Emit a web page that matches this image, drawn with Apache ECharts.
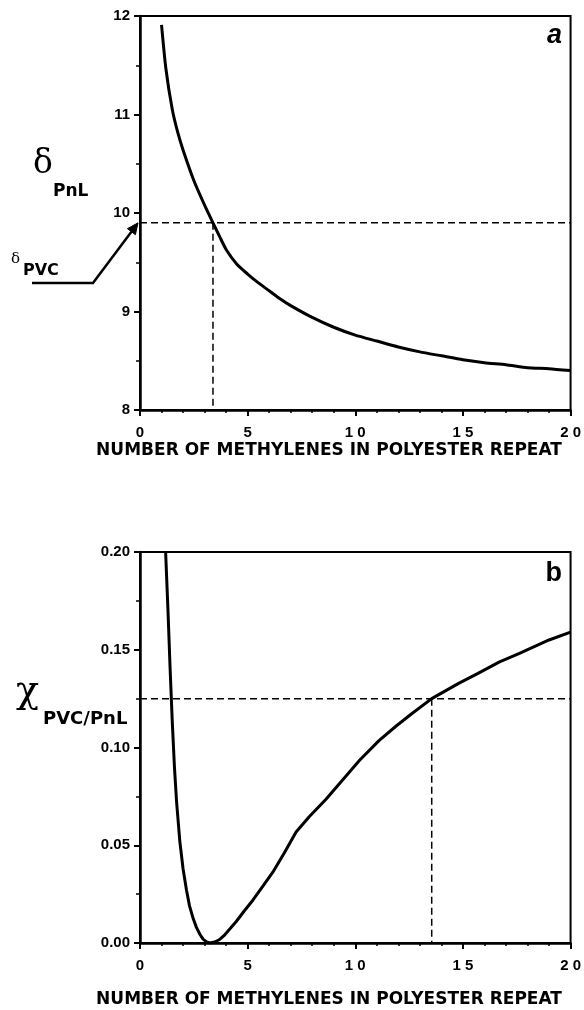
<!DOCTYPE html>
<html>
<head>
<meta charset="utf-8">
<script src="https://cdn.jsdelivr.net/npm/echarts@6/dist/echarts.min.js"></script>
<style>
  html, body { margin: 0; padding: 0; background: #fff; }
  #chart { width: 584px; height: 1010px; }
</style>
</head>
<body>
<div id="chart"></div>
<script>
// Panel a: solubility parameter of the polyester vs. number of methylenes
const nA = [1.0, 1.2, 1.5, 1.75, 2.0, 2.5, 3.0, 3.39, 3.7, 4.0, 4.5, 5.0, 5.5, 6.0, 6.5, 7.0,
            8.0, 9.0, 10, 11, 12, 13, 14, 15, 16, 17, 18, 19, 20];
const deltaPnL = [11.91, 11.47, 11.05, 10.82, 10.64, 10.33, 10.08, 9.90, 9.76, 9.63, 9.48, 9.38, 9.29, 9.21, 9.13, 9.06,
                  8.94, 8.84, 8.76, 8.70, 8.64, 8.59, 8.55, 8.51, 8.48, 8.46, 8.43, 8.42, 8.40];
const deltaPVC = 9.9;        // solubility parameter of PVC
const nDeltaMatch = 3.39;    // methylene count where the curves meet

// Panel b: interaction parameter PVC/PnL vs. number of methylenes
const nB = [1.19, 1.30, 1.40, 1.50, 1.60, 1.70, 1.85, 2.0, 2.16, 2.3, 2.47, 2.62, 2.78, 2.93, 3.09, 3.25, 3.47,
            3.7, 3.94, 4.2, 4.47, 4.85, 5.25, 5.7, 6.17, 6.7, 7.25, 7.87, 8.64, 9.26, 10.2, 11.1, 11.9, 12.65,
            13.55, 14.8, 15.7, 16.7, 17.6, 19.0, 20.0];
const chi = [0.200, 0.170, 0.140, 0.113, 0.090, 0.072, 0.052, 0.038, 0.027, 0.019, 0.0125, 0.008, 0.0045, 0.002,
             0.0006, 0.0, 0.0005, 0.0018, 0.0042, 0.0075, 0.011, 0.0165, 0.022, 0.029, 0.0362, 0.046, 0.0568,
             0.0647, 0.0735, 0.0815, 0.0935, 0.1035, 0.111, 0.1175, 0.125, 0.1328, 0.1379, 0.1438, 0.148,
             0.155, 0.159];
const chiCritical = 0.125;
const nChiMatch = 13.55;

// Axis ranges and tick steps
const xRange = [0, 20, 5];
const yRangeA = [8, 12, 1];
const yRangeB = [0, 0.20, 0.05];

const xTitle = 'NUMBER OF METHYLENES IN POLYESTER REPEAT';

const zip = (xs, ys) => xs.map((x, i) => [x, ys[i]]);

function labelStyle(extra) {
  return Object.assign({
    color: '#000', fontFamily: 'Liberation Sans', fontWeight: 'bold', fontSize: 15
  }, extra);
}

function xAxisCfg(gridIndex) {
  return {
    type: 'value', gridIndex,
    min: xRange[0], max: xRange[1], interval: xRange[2],
    axisLine: { show: true, onZero: false, lineStyle: { color: '#000', width: 2.5 } },
    axisTick: { show: true, inside: false, length: 6, lineStyle: { color: '#000', width: 2 } },
    minorTick: { show: true, splitNumber: 5, length: 3, lineStyle: { color: '#000', width: 1.5 } },
    splitLine: { show: false }, minorSplitLine: { show: false },
    axisLabel: labelStyle({ margin: 15, formatter: v => String(v).split('').join(' ') })
  };
}

function yAxisCfg(gridIndex, range, digits) {
  return {
    type: 'value', gridIndex,
    min: range[0], max: range[1], interval: range[2],
    axisLine: { show: true, onZero: false, lineStyle: { color: '#000', width: 2.5 } },
    axisTick: { show: true, inside: false, length: 6, lineStyle: { color: '#000', width: 2 } },
    minorTick: { show: true, splitNumber: 2, length: 4, lineStyle: { color: '#000', width: 1.5 } },
    splitLine: { show: false }, minorSplitLine: { show: false },
    axisLabel: labelStyle({ margin: 10, formatter: v => Number(v).toFixed(digits) })
  };
}

const curveStyle = { color: '#000', width: 3 };
const dashStyle = { color: '#000', width: 1.5, type: [7, 4] };

function lineSeries(xi, yi, data, style, smooth) {
  return {
    type: 'line', xAxisIndex: xi, yAxisIndex: yi, data,
    showSymbol: false, symbol: 'none', smooth: smooth || false,
    lineStyle: style, silent: true, z: 3
  };
}

const chart = echarts.init(document.getElementById('chart'), null, { renderer: 'canvas' });

chart.setOption({
  animation: false,
  backgroundColor: '#fff',
  grid: [
    { left: 140, top: 16, width: 432, height: 394, show: true, borderColor: '#000', borderWidth: 2, backgroundColor: 'transparent' },
    { left: 140, top: 552, width: 432, height: 391, show: true, borderColor: '#000', borderWidth: 2, backgroundColor: 'transparent' }
  ],
  xAxis: [xAxisCfg(0), xAxisCfg(1)],
  yAxis: [yAxisCfg(0, yRangeA, 0), yAxisCfg(1, yRangeB, 2)],
  series: [
    lineSeries(0, 0, zip(nA, deltaPnL), curveStyle, 0.2),
    lineSeries(0, 0, [[xRange[0], deltaPVC], [xRange[1], deltaPVC]], dashStyle),
    lineSeries(0, 0, [[nDeltaMatch, deltaPVC], [nDeltaMatch, yRangeA[0]]], dashStyle),
    lineSeries(1, 1, zip(nB, chi), curveStyle, false),
    lineSeries(1, 1, [[xRange[0], chiCritical], [xRange[1], chiCritical]], dashStyle),
    lineSeries(1, 1, [[nChiMatch, chiCritical], [nChiMatch, yRangeB[0]]], dashStyle)
  ]
});

// Annotations: axis titles, symbols, panel letters and the PVC arrow
const tip = chart.convertToPixel({ xAxisIndex: 0, yAxisIndex: 0 }, [xRange[0], deltaPVC]);
const tipX = tip[0] - 2, tipY = tip[1];
const startX = 93, startY = 283;
const dx = tipX - startX, dy = tipY - startY, len = Math.hypot(dx, dy);
const ux = dx / len, uy = dy / len, px = -uy, py = ux;
const headLen = 11, headHalf = 5;
const baseX = tipX - ux * headLen, baseY = tipY - uy * headLen;

function txt(text, x, y, font, align) {
  return {
    type: 'text', x, y, silent: true,
    style: { text, font, fill: '#000', align: align || 'left', verticalAlign: 'middle',
             textAlign: align || 'left', textVerticalAlign: 'middle' }
  };
}

const boldSans = size => `bold ${size}px "DejaVu Sans", sans-serif`;
const serif = size => `${size}px "DejaVu Serif", serif`;

chart.setOption({
  graphic: [
    txt(xTitle, 329, 451, boldSans(17), 'center'),
    txt(xTitle, 329, 1000, boldSans(17), 'center'),
    txt('δ', 33, 164, serif(33)),
    txt('PnL', 53, 192, boldSans(17)),
    txt('δ', 11, 259, serif(15)),
    txt('PVC', 23, 271, boldSans(16)),
    txt('χ', 16, 692, serif(38)),
    txt('PVC/PnL', 43, 719, boldSans(18)),
    txt('a', 562, 36, 'italic bold 27px "Liberation Sans", sans-serif', 'right'),
    txt('b', 562, 574, 'bold 27px "Liberation Sans", sans-serif', 'right'),
    { type: 'polyline', silent: true,
      shape: { points: [[32, startY], [startX, startY], [baseX, baseY]] },
      style: { stroke: '#000', lineWidth: 2.5, fill: null } },
    { type: 'polygon', silent: true,
      shape: { points: [[tipX, tipY], [baseX + px * headHalf, baseY + py * headHalf], [baseX - px * headHalf, baseY - py * headHalf]] },
      style: { fill: '#000', stroke: '#000', lineWidth: 1 } }
  ]
});
</script>
</body>
</html>
